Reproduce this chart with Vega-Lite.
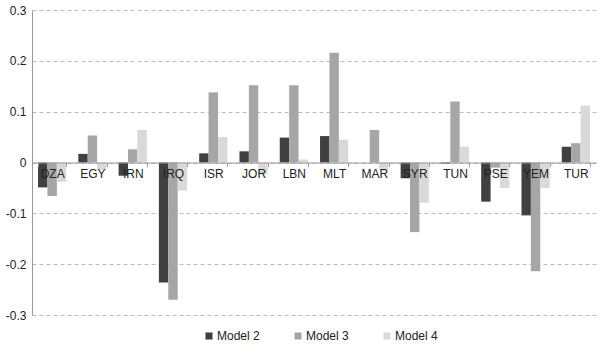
{
  "$schema": "https://vega.github.io/schema/vega-lite/v6.json",
  "width": 564,
  "height": 305,
  "autosize": {"type": "none"},
  "padding": {"left": 32, "top": 10, "right": 4, "bottom": 38},
  "background": "white",
  "config": {"view": {"stroke": null}, "font": "Liberation Sans"},
  "data": {
    "values": [
      {"country": "DZA", "model": "Model 2", "value": -0.049},
      {"country": "DZA", "model": "Model 3", "value": -0.066},
      {"country": "DZA", "model": "Model 4", "value": -0.038},
      {"country": "EGY", "model": "Model 2", "value": 0.017},
      {"country": "EGY", "model": "Model 3", "value": 0.053},
      {"country": "EGY", "model": "Model 4", "value": -0.014},
      {"country": "IRN", "model": "Model 2", "value": -0.026},
      {"country": "IRN", "model": "Model 3", "value": 0.026},
      {"country": "IRN", "model": "Model 4", "value": 0.064},
      {"country": "IRQ", "model": "Model 2", "value": -0.236},
      {"country": "IRQ", "model": "Model 3", "value": -0.27},
      {"country": "IRQ", "model": "Model 4", "value": -0.055},
      {"country": "ISR", "model": "Model 2", "value": 0.018},
      {"country": "ISR", "model": "Model 3", "value": 0.138},
      {"country": "ISR", "model": "Model 4", "value": 0.05},
      {"country": "JOR", "model": "Model 2", "value": 0.022},
      {"country": "JOR", "model": "Model 3", "value": 0.152},
      {"country": "JOR", "model": "Model 4", "value": -0.023},
      {"country": "LBN", "model": "Model 2", "value": 0.049},
      {"country": "LBN", "model": "Model 3", "value": 0.152},
      {"country": "LBN", "model": "Model 4", "value": 0.006},
      {"country": "MLT", "model": "Model 2", "value": 0.052},
      {"country": "MLT", "model": "Model 3", "value": 0.216},
      {"country": "MLT", "model": "Model 4", "value": 0.045},
      {"country": "MAR", "model": "Model 2", "value": 0.0},
      {"country": "MAR", "model": "Model 3", "value": 0.064},
      {"country": "MAR", "model": "Model 4", "value": -0.016},
      {"country": "SYR", "model": "Model 2", "value": -0.031},
      {"country": "SYR", "model": "Model 3", "value": -0.137},
      {"country": "SYR", "model": "Model 4", "value": -0.079},
      {"country": "TUN", "model": "Model 2", "value": -0.002},
      {"country": "TUN", "model": "Model 3", "value": 0.12},
      {"country": "TUN", "model": "Model 4", "value": 0.031},
      {"country": "PSE", "model": "Model 2", "value": -0.077},
      {"country": "PSE", "model": "Model 3", "value": -0.01},
      {"country": "PSE", "model": "Model 4", "value": -0.05},
      {"country": "YEM", "model": "Model 2", "value": -0.104},
      {"country": "YEM", "model": "Model 3", "value": -0.214},
      {"country": "YEM", "model": "Model 4", "value": -0.05},
      {"country": "TUR", "model": "Model 2", "value": 0.031},
      {"country": "TUR", "model": "Model 3", "value": 0.038},
      {"country": "TUR", "model": "Model 4", "value": 0.112}
    ]
  },
  "mark": {"type": "bar"},
  "encoding": {
    "x": {
      "field": "country",
      "type": "nominal",
      "sort": null,
      "scale": {"paddingInner": 0.3, "paddingOuter": 0.15},
      "axis": {
        "title": null,
        "orient": "bottom",
        "offset": -152.5,
        "zindex": 1,
        "labelAngle": 0,
        "domainColor": "#999999",
        "tickColor": "#999999",
        "tickBand": "extent",
        "tickSize": 4,
        "labelFontSize": 12,
        "labelColor": "#222222",
        "labelPadding": 2,
        "grid": false
      }
    },
    "xOffset": {"field": "model", "scale": {"paddingInner": 0, "paddingOuter": 0}},
    "y": {
      "field": "value",
      "type": "quantitative",
      "scale": {"domain": [-0.3, 0.3], "nice": false},
      "axis": {
        "title": null,
        "values": [-0.3, -0.2, -0.1, 0, 0.1, 0.2, 0.3],
        "labelExpr": "datum.value == 0 ? '0' : replace(format(datum.value, '.1f'), '\u2212', '-')",
        "grid": true,
        "gridDash": [4, 3],
        "gridColor": "#bbbbbb",
        "ticks": false,
        "domainColor": "#999999",
        "labelFontSize": 12,
        "labelColor": "#222222",
        "labelPadding": 6
      }
    },
    "color": {
      "field": "model",
      "type": "nominal",
      "scale": {"domain": ["Model 2", "Model 3", "Model 4"], "range": ["#404040", "#a6a6a6", "#d9d9d9"]},
      "legend": {
        "title": null,
        "orient": "none",
        "legendX": 171,
        "legendY": 320,
        "direction": "horizontal",
        "symbolType": "square",
        "symbolSize": 50,
        "symbolStrokeWidth": 0,
        "labelFontSize": 12,
        "labelColor": "#222222",
        "labelOffset": 2,
        "columnPadding": 32
      }
    }
  }
}
